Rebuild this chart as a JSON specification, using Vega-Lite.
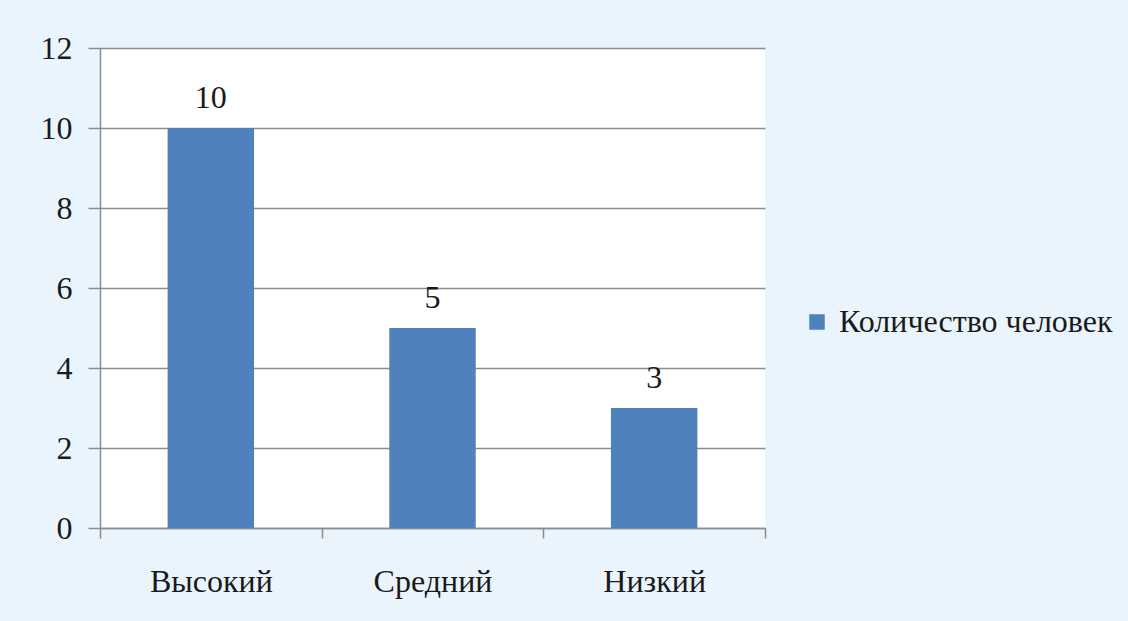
{
  "$schema": "https://vega.github.io/schema/vega-lite/v6.json",
  "width": 665,
  "height": 480,
  "autosize": "none",
  "padding": {"left": 100, "top": 48, "right": 363, "bottom": 93},
  "background": "#eaf4fd",
  "data": {"values": [
    {"level": "Высокий", "count": 10, "series": "Количество человек"},
    {"level": "Средний", "count": 5, "series": "Количество человек"},
    {"level": "Низкий", "count": 3, "series": "Количество человек"}
  ]},
  "encoding": {
    "x": {"field": "level", "type": "nominal", "sort": null,
      "scale": {"paddingInner": 0, "paddingOuter": 0},
      "axis": {"title": null, "labelAngle": 0, "tickBand": "extent", "tickSize": 10, "labelPadding": 28,
        "domainColor": "#8c8c8c", "tickColor": "#8c8c8c", "domainWidth": 1.5, "tickWidth": 1.5,
        "labelFont": "Liberation Serif", "labelFontSize": 32, "labelColor": "#1a1a1a"}},
    "y": {"field": "count", "type": "quantitative",
      "scale": {"domain": [0, 12]},
      "axis": {"title": null, "values": [0, 2, 4, 6, 8, 10, 12], "tickSize": 12, "labelPadding": 16,
        "grid": true, "gridColor": "#8c8c8c", "gridWidth": 1.5,
        "domainColor": "#8c8c8c", "tickColor": "#8c8c8c", "domainWidth": 1.5, "tickWidth": 1.5,
        "labelFont": "Liberation Serif", "labelFontSize": 32, "labelColor": "#1a1a1a"}}
  },
  "layer": [
    {"mark": {"type": "bar", "width": {"band": 0.39}, "color": "#4f81bd"},
     "encoding": {"color": {"field": "series", "type": "nominal",
       "scale": {"range": ["#4f81bd"]},
       "legend": {"title": null, "orient": "none", "legendX": 701, "legendY": 258,
         "symbolType": "square", "symbolSize": 240, "symbolStrokeWidth": 0, "labelOffset": 6,
         "labelFont": "Liberation Serif", "labelFontSize": 32, "labelColor": "#1a1a1a", "labelLimit": 400}}}},
    {"mark": {"type": "text", "baseline": "alphabetic", "dy": -20, "font": "Liberation Serif", "fontSize": 32, "color": "#1a1a1a"},
     "encoding": {"text": {"field": "count", "type": "quantitative"}}}
  ],
  "config": {"view": {"fill": "white", "stroke": null}}
}
